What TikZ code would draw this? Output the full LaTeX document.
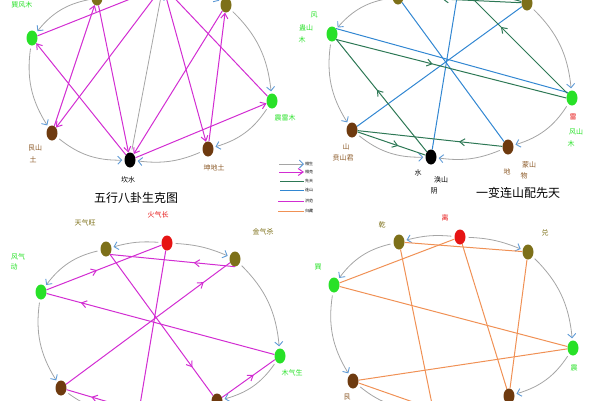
\documentclass[tikz,border=0pt]{standalone}
\usepackage{fontspec}
\setmainfont{Noto Sans CJK SC}
\usepackage{tikz}
\usetikzlibrary{arrows.meta, shapes.geometric, decorations.markings}

\definecolor{leaf}{RGB}{40,225,40}
\definecolor{metal}{RGB}{125,112,25}
\definecolor{earth}{RGB}{110,58,15}
\definecolor{fire}{RGB}{230,20,20}
\definecolor{mag}{RGB}{210,45,210}
\definecolor{sky}{RGB}{50,135,210}
\definecolor{pine}{RGB}{45,120,85}
\definecolor{orng}{RGB}{240,145,85}
\definecolor{arcgray}{RGB}{165,165,165}
\definecolor{tipblue}{RGB}{95,155,215}
\definecolor{earthtxt}{RGB}{140,90,40}

\begin{document}
\begin{tikzpicture}[x=1pt, y=-1pt,
  gua/.style={ellipse, minimum width=11pt, minimum height=15pt, inner sep=0pt},
  mu/.style={gua, fill=leaf}, jin/.style={gua, fill=metal}, tu/.style={gua, fill=earth},
  huo/.style={gua, fill=fire}, shui/.style={gua, fill=black},
  sheng/.style={draw=arcgray, line width=0.8pt, shorten <=3pt, shorten >=2pt,
    -{Straight Barb[length=4pt, width=8pt, color=tipblue, line width=0.9pt]}},
  ke/.style={draw=mag, line width=1pt, -{Straight Barb[length=5pt, width=7pt]}},
  mg/.style={draw=mag, line width=1pt},
  lian/.style={draw=sky, line width=1pt},
  xian/.style={draw=pine, line width=1pt},
  gui/.style={draw=orng, line width=1pt},
  midarr/.style={postaction={decorate}, decoration={markings,
    mark=at position #1 with {\arrow{Straight Barb[length=5pt, width=7pt]}}}},
  lbl/.style={font=\fontsize{7}{8}\selectfont, inner sep=0pt},
  ttl/.style={font=\fontsize{12}{12}\selectfont, inner sep=0pt},
  legtxt/.style={font=\fontsize{4}{4}\selectfont, inner sep=1pt, anchor=west}]
\useasboundingbox (0,0) rectangle (600,400);
\clip (0,0) rectangle (600,400);

% top left: wuxing bagua
\node[jin] (A1) at (97,-2) {};
\node[huo] (H1) at (163,-14) {};
\node[jin] (G1) at (226,5) {};
\node[mu] (B1) at (32,38) {};
\node[mu] (F1) at (272,101) {};
\node[tu] (C1) at (52,133) {};
\node[tu] (E1) at (208,149) {};
\node[shui] (D1) at (130,160) {};
\draw[sheng] (H1) to[bend right=15] (A1);
\draw[sheng] (A1) to[bend right=20] (B1);
\draw[sheng] (B1) to[bend right=20] (C1);
\draw[sheng] (C1) to[bend right=20] (D1);
\draw[sheng] (E1) to[bend left=15] (D1);
\draw[sheng] (F1) to[bend left=20] (E1);
\draw[sheng] (G1) to[bend left=20] (F1);
\draw[sheng] (H1) to[bend left=15] (G1);
\draw[sheng] (D1) -- (H1);
\draw[ke] (D1) -- (B1);
\draw[ke] (C1) -- (A1);
\draw[ke] (A1) -- (D1);
\draw[ke] (H1) -- (C1);
\draw[ke] (H1) -- (E1);
\draw[ke] (F1) -- (H1);
\draw[ke] (B1) -- (H1);
\draw[ke] (E1) -- (G1);
\draw[ke] (G1) -- (D1);
\draw[ke] (D1) -- (F1);
\node[lbl, text=leaf] (tB1) at (22,5) {巽风木};
\node[lbl, text=earthtxt] (tC1) at (35,148) {艮山};
\node[lbl, text=earthtxt] (tC1b) at (33,160) {土};
\node[lbl] (tD1) at (128,180) {坎水};
\node[lbl, text=earthtxt] (tE1) at (214,168) {坤地土};
\node[lbl, text=leaf] (tF1) at (285,118) {震雷木};
\node[ttl] (T1) at (136,198) {五行八卦生克图};

% top right: lianshan
\node[jin] (A2) at (398,-3) {};
\node[huo] (H2) at (459,-15) {};
\node[jin] (G2) at (527,3) {};
\node[mu] (B2) at (332,34) {};
\node[mu] (F2) at (572,98) {};
\node[tu] (C2) at (352,130) {};
\node[tu] (E2) at (508,147) {};
\node[shui] (D2) at (431,157) {};
\draw[sheng] (A2) to[bend right=20] (B2);
\draw[sheng] (B2) to[bend right=20] (C2);
\draw[sheng] (C2) to[bend right=20] (D2);
\draw[sheng] (E2) to[bend left=15] (D2);
\draw[sheng] (F2) to[bend left=20] (E2);
\draw[sheng] (G2) to[bend left=20] (F2);
\draw[lian] (B2.north east) -- (F2.north west);
\draw[lian] (C2) -- (G2);
\draw[lian] (D2) -- (H2);
\draw[lian] (E2) -- (A2);
\draw[xian, midarr=0.42] (B2.south east) -- (F2.west);
\draw[xian, midarr=0.55] (D2) -- (B2);
\draw[xian, midarr=0.3] (E2) -- (C2);
\draw[xian, midarr=0.6] (C2) -- (D2);
\draw[xian, midarr=0.64] (F2) -- (H2);
\draw[xian, midarr=0.67] (G2) -- (A2);
\draw[xian] (G2) -- (H2);
\node[lbl, text=leaf] (tB2) at (314,15) {风};
\node[lbl, text=leaf] (tB2b) at (306,28) {蛊山};
\node[lbl, text=leaf] (tB2c) at (302,40) {木};
\node[lbl, text=earthtxt] (tC2) at (346,147) {山};
\node[lbl, text=earthtxt] (tC2b) at (343,158) {贲山君};
\node[lbl] (tD2) at (418,173) {水};
\node[lbl] (tD2b) at (441,180) {涣山};
\node[lbl] (tD2c) at (434,191) {阴};
\node[lbl, text=earthtxt] (tE2) at (507,172) {地};
\node[lbl, text=earthtxt] (tE2b) at (529,165) {蒙山};
\node[lbl, text=earthtxt] (tE2c) at (524,176) {物};
\node[lbl, text=fire] (tF2) at (573,117) {雷};
\node[lbl, text=leaf] (tF2b) at (576,132) {风山};
\node[lbl, text=leaf] (tF2c) at (571,144) {木};
\node[ttl] (T2) at (518,193) {一变连山配先天};

% legend
\node[legtxt] (L1) at (304,164) {相生};
\node[legtxt] (L2) at (304,172) {相克};
\node[legtxt] (L3) at (304,181) {先天};
\node[legtxt] (L4) at (304,190) {连山};
\node[legtxt] (L5) at (304,201) {洪范};
\node[legtxt] (L6) at (304,211) {归藏};
\coordinate (l1) at (279,164);
\coordinate (l2) at (279,172);
\coordinate (l3) at (280,181);
\coordinate (l4) at (280,190);
\coordinate (l5) at (278,201);
\coordinate (l6) at (278,211);
\draw[sheng, shorten <=0pt, shorten >=0pt] (l1) -- (L1);
\draw[ke] (l2) -- (L2);
\draw[xian] (l3) -- (L3);
\draw[lian] (l4) -- (L4);
\draw[mg] (l5) -- (L5);
\draw[gui] (l6) -- (L6);

% bottom left: qi
\node[huo] (H3) at (167,243) {};
\node[jin] (A3) at (106,249) {};
\node[jin] (G3) at (235,259) {};
\node[mu] (B3) at (41,292) {};
\node[mu] (F3) at (280,356) {};
\node[tu] (C3) at (61,388) {};
\node[tu] (E3) at (217,401) {};
\node[shui] (D3) at (139,411) {};
\draw[sheng] (H3) to[bend right=10] (A3);
\draw[sheng] (H3) to[bend left=10] (G3);
\draw[sheng] (A3) to[bend right=20] (B3);
\draw[sheng] (B3) to[bend right=20] (C3);
\draw[sheng] (C3) to[bend right=20] (D3);
\draw[sheng] (G3) to[bend left=20] (F3);
\draw[sheng] (F3) to[bend left=20] (E3);
\draw[mg] (H3) -- (D3);
\draw[mg, midarr=0.63] (D3) -- (C3);
\draw[mg, midarr=0.84] (C3) -- (G3);
\draw[mg, midarr=0.33] (G3.south) -- (A3.south east);
\draw[mg, midarr=0.8] (A3.south east) -- (E3);
\draw[mg, midarr=0.6] (E3) -- (F3);
\draw[mg, midarr=0.85] (F3) -- (B3);
\draw[mg, midarr=0.44] (B3) -- (H3);
\node[lbl, text=fire] (tH3) at (158,215) {火气长};
\node[lbl, text=metal] (tA3) at (85,223) {天气旺};
\node[lbl, text=metal] (tG3) at (263,232) {金气杀};
\node[lbl, text=leaf] (tB3) at (18,257) {风气};
\node[lbl, text=leaf] (tB3b) at (14,267) {动};
\node[lbl, text=leaf] (tF3) at (292,373) {木气生};

% bottom right: guicang
\node[huo] (H4) at (460,237) {};
\node[jin] (A4) at (399,242) {};
\node[jin] (G4) at (528,252) {};
\node[mu] (B4) at (334,285) {};
\node[mu] (F4) at (573,348) {};
\node[tu] (C4) at (353,381) {};
\node[tu] (E4) at (509,396) {};
\node[shui] (D4) at (433,409) {};
\draw[sheng] (H4) to[bend right=10] (A4);
\draw[sheng] (H4) to[bend left=10] (G4);
\draw[sheng] (A4) to[bend right=20] (B4);
\draw[sheng] (B4) to[bend right=20] (C4);
\draw[sheng] (C4) to[bend right=20] (D4);
\draw[sheng] (G4) to[bend left=20] (F4);
\draw[sheng] (F4) to[bend left=20] (E4);
\draw[gui] (A4) -- (G4);
\draw[gui] (H4) -- (B4);
\draw[gui] (B4) -- (F4);
\draw[gui] (F4) -- (C4);
\draw[gui] (C4) -- (D4);
\draw[gui] (A4) -- (D4);
\draw[gui] (H4) -- (E4);
\draw[gui] (G4) -- (E4);
\node[lbl, text=fire] (tH4) at (445,218) {离};
\node[lbl, text=metal] (tA4) at (382,225) {乾};
\node[lbl, text=metal] (tG4) at (545,233) {兑};
\node[lbl, text=leaf] (tB4) at (318,267) {巽};
\node[lbl, text=leaf] (tF4) at (574,368) {震};
\node[lbl, text=earthtxt] (tC4) at (347,397) {艮};
\end{tikzpicture}
\end{document}
